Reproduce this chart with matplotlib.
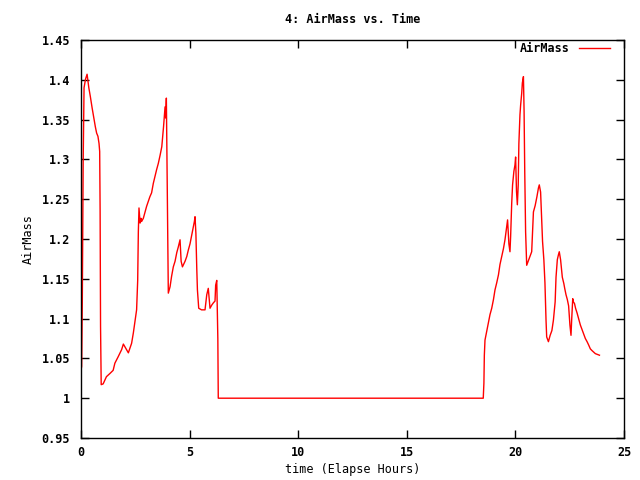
import matplotlib
matplotlib.use("Agg")
import matplotlib.pyplot as plt
from matplotlib.ticker import FuncFormatter

# values, written 10 per line so the lists line up
# morning run (hours 0 - 6.3)
am_hours = [0.00, 0.03, 0.06, 0.10, 0.14, 0.21, 0.28, 0.36, 0.43, 0.51,
            0.59, 0.66, 0.72, 0.78, 0.83, 0.86, 0.88, 0.90, 0.93, 1.02,
            1.17, 1.33, 1.48, 1.56, 1.71, 1.87, 1.95, 2.18, 2.33, 2.41,
            2.49, 2.56, 2.61, 2.64, 2.67, 2.72, 2.76, 2.79, 2.87, 3.02,
            3.17, 3.25, 3.33, 3.41, 3.48, 3.56, 3.64, 3.72, 3.80, 3.87,
            3.90, 3.93, 3.95, 3.99, 4.02, 4.10, 4.17, 4.25, 4.33, 4.41,
            4.48, 4.56, 4.61, 4.67, 4.79, 4.87, 4.94, 5.02, 5.10, 5.17,
            5.22, 5.25, 5.29, 5.33, 5.36, 5.42, 5.55, 5.71, 5.79, 5.86,
            5.94, 6.02, 6.10, 6.17, 6.20, 6.25, 6.30, 6.32]
am_airmass = [1.035, 1.040, 1.121, 1.297, 1.390, 1.401, 1.407, 1.390, 1.379, 1.365,
              1.352, 1.341, 1.333, 1.329, 1.320, 1.310, 1.236, 1.090, 1.017, 1.018,
              1.027, 1.031, 1.035, 1.044, 1.052, 1.061, 1.068, 1.057, 1.069, 1.082,
              1.098, 1.111, 1.148, 1.209, 1.239, 1.220, 1.226, 1.222, 1.226, 1.241,
              1.253, 1.258, 1.270, 1.279, 1.287, 1.295, 1.305, 1.316, 1.341, 1.366,
              1.352, 1.377, 1.320, 1.192, 1.132, 1.140, 1.153, 1.165, 1.172, 1.183,
              1.190, 1.199, 1.172, 1.165, 1.172, 1.178, 1.186, 1.194, 1.205, 1.215,
              1.222, 1.228, 1.207, 1.163, 1.136, 1.113, 1.111, 1.111, 1.130, 1.138,
              1.113, 1.117, 1.120, 1.122, 1.142, 1.148, 1.075, 1.000]

# evening run (hours 18.5 - 23.9)
pm_hours = [18.52, 18.55, 18.57, 18.60, 18.65, 18.71, 18.76, 18.83, 18.91, 18.99,
            19.06, 19.14, 19.22, 19.29, 19.37, 19.45, 19.52, 19.60, 19.64, 19.70,
            19.75, 19.78, 19.83, 19.87, 19.93, 19.98, 20.01, 20.05, 20.09, 20.13,
            20.16, 20.21, 20.24, 20.29, 20.32, 20.37, 20.40, 20.43, 20.47, 20.52,
            20.60, 20.67, 20.75, 20.83, 20.91, 20.99, 21.06, 21.10, 21.16, 21.21,
            21.25, 21.31, 21.36, 21.41, 21.44, 21.52, 21.60, 21.68, 21.75, 21.83,
            21.87, 21.93, 21.98, 22.02, 22.08, 22.16, 22.23, 22.27, 22.33, 22.39,
            22.45, 22.51, 22.56, 22.59, 22.64, 22.67, 22.72, 22.77, 22.84, 22.91,
            22.99, 23.07, 23.14, 23.22, 23.30, 23.37, 23.45, 23.52, 23.68, 23.87]
pm_airmass = [1.000, 1.019, 1.054, 1.073, 1.080, 1.088, 1.096, 1.105, 1.113, 1.124,
              1.136, 1.145, 1.155, 1.168, 1.178, 1.188, 1.199, 1.215, 1.224, 1.194,
              1.184, 1.203, 1.245, 1.268, 1.285, 1.293, 1.303, 1.260, 1.243, 1.268,
              1.320, 1.356, 1.368, 1.383, 1.396, 1.404, 1.360, 1.285, 1.209, 1.167,
              1.173, 1.178, 1.184, 1.234, 1.242, 1.253, 1.264, 1.268, 1.259, 1.226,
              1.197, 1.174, 1.145, 1.098, 1.077, 1.071, 1.079, 1.085, 1.098, 1.121,
              1.152, 1.174, 1.180, 1.184, 1.174, 1.152, 1.144, 1.138, 1.130, 1.124,
              1.116, 1.092, 1.079, 1.098, 1.125, 1.121, 1.119, 1.113, 1.107, 1.100,
              1.092, 1.086, 1.081, 1.075, 1.071, 1.067, 1.062, 1.060, 1.056, 1.054]

x_ticks = [0, 5, 10, 15, 20, 25]
y_ticks = [0.95, 1.0, 1.05, 1.1, 1.15, 1.2, 1.25, 1.3, 1.35, 1.4, 1.45]

plt.rcParams['font.family'] = ['DejaVu Sans Mono']
plt.rcParams['font.weight'] = 'bold'
plt.rcParams['font.size'] = 8.5

fig = plt.figure(figsize=(6.4, 4.8), dpi=100)
ax = fig.add_axes([81 / 640, 42 / 480, 543 / 640, 398 / 480])

# the gap between runs is drawn as a flat line at 1, like the reference
ax.plot(am_hours + pm_hours, am_airmass + pm_airmass, color='red', linewidth=1.0,
        label='AirMass')

ax.set_xlim(0, 25)
ax.set_ylim(0.95, 1.45)
ax.set_xticks(x_ticks)
ax.set_yticks(y_ticks)
ax.yaxis.set_major_formatter(FuncFormatter(lambda v, p: '%g' % round(v, 2)))
ax.tick_params(direction='in', length=6, width=1, top=True, right=True)
ax.tick_params(axis='y', pad=8)
ax.tick_params(axis='x', pad=6)
for s in ax.spines.values():
    s.set_linewidth(1.0)

ax.set_title('4: AirMass vs. Time', fontsize=8.5, fontweight='bold', pad=12)
ax.set_xlabel('time (Elapse Hours)', labelpad=3)
ax.set_ylabel('AirMass', labelpad=5)

ax.legend(loc='upper right', frameon=False, markerfirst=False, handlelength=2.6,
          borderpad=0, borderaxespad=0, handletextpad=0.8,
          bbox_to_anchor=(1 - 14 / 543, 1 - 2 / 398))

fig.savefig('out.png', dpi=100)
